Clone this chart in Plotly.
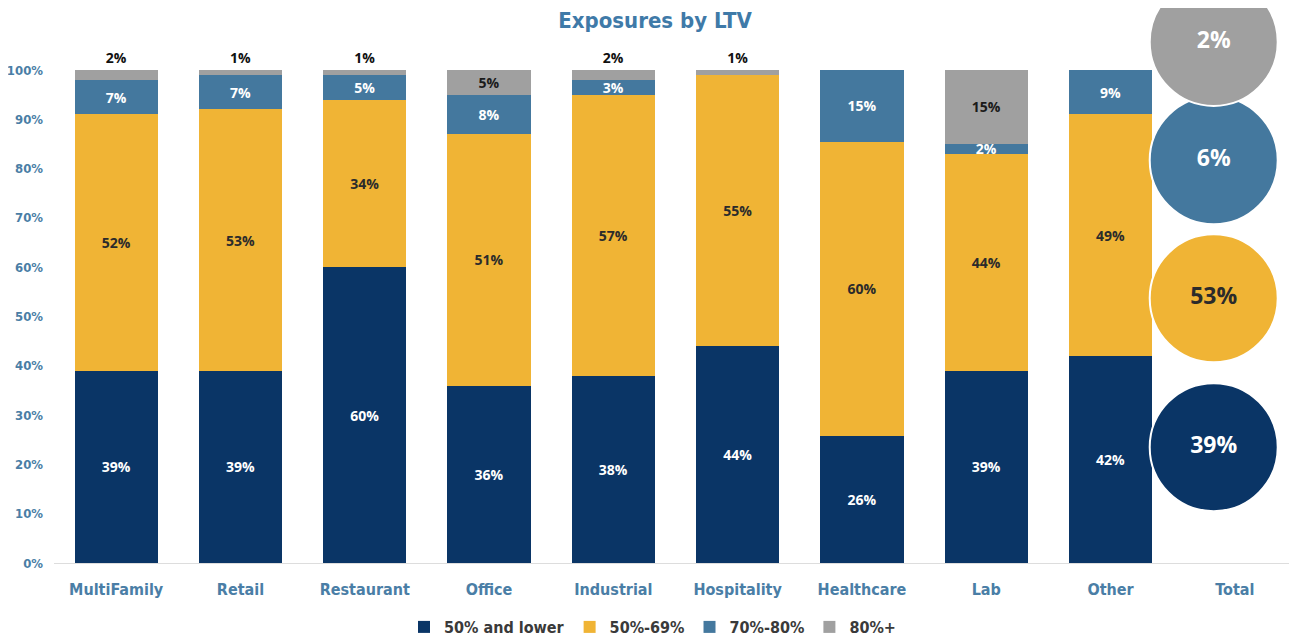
import plotly.graph_objects as go

categories = ['MultiFamily', 'Retail', 'Restaurant', 'Office', 'Industrial',
              'Hospitality', 'Healthcare', 'Lab', 'Other']
all_categories = categories + ['Total']

series_names = ['50% and lower', '50%-69%', '70%-80%', '80%+']
low_50 = [39, 39, 60, 36, 38, 44, 25.8, 39, 42]
mid_50_69 = [52, 53, 34, 51, 57, 55, 59.6, 44, 49]
mid_70_80 = [7, 7, 5, 8, 3, 0, 14.6, 2, 9]
over_80 = [2, 1, 1, 5, 2, 1, 0, 15, 0]

total_values = [39, 53, 6, 2]
# vertical spot of each Total bubble, as placed in the original chart
total_bubble_y = [23.5, 53.7, 81.7, 105.7]

y_ticks = list(range(0, 101, 10))

colors = ['#0a3566', '#f0b435', '#44789e', '#a0a0a0']
text_colors = ['white', '#2b2b2b', 'white', '#1a1a1a']
bubble_text_colors = ['white', '#2b2b2b', 'white', 'white']

NARROW = 'Liberation Sans Narrow, DejaVu Sans Condensed, Roboto'
BODY = 'Open Sans, Lato, Roboto'
AXIS_BLUE = '#4a7ea6'

# the page adds an 8px body margin, so the figure is a bit smaller
W, H = 1289, 631
BUBBLE_SHIFT = 0.17  # bubbles sit a little left of the Total label

fig = go.Figure()

for i, vals in enumerate([low_50, mid_50_69, mid_70_80, over_80]):
    labels = [f'{v:.0f}%' if v > 0 else '' for v in vals]
    if i == 3:
        # small grey caps get their label above the bar
        pos = ['inside' if v >= 5 else 'outside' for v in vals]
    else:
        pos = 'inside'
    fig.add_trace(go.Bar(
        x=categories, y=vals, name=series_names[i],
        marker=dict(color=colors[i], line=dict(width=0)),
        text=labels, textposition=pos, insidetextanchor='middle',
        textfont=dict(family=BODY, size=14, color=text_colors[i],
                      weight='bold'),
        outsidetextfont=dict(family=BODY, size=14, color='#111111',
                             weight='bold'),
        cliponaxis=False,
        hoverinfo='skip',
    ))

fig.add_trace(go.Scatter(
    x=['Total'] * len(total_values), y=total_bubble_y, xaxis='x2',
    mode='markers+text',
    marker=dict(size=128, color=colors, line=dict(color='white', width=2),
                opacity=1),
    text=[f'{v}%' for v in total_values], textposition='middle center',
    textfont=dict(family=BODY, size=23, color=bubble_text_colors,
                  weight='bold'),
    cliponaxis=False, showlegend=False, hoverinfo='skip',
))

fig.update_layout(
    width=W, height=H,
    barmode='stack', bargap=0.33,
    paper_bgcolor='white', plot_bgcolor='white',
    margin=dict(l=46, r=0, t=0, b=76, autoexpand=False),
    title=dict(text='<b>Exposures by LTV</b>', x=647 / W, xref='container',
               y=1 - 12 / H, yref='container', xanchor='center',
               yanchor='middle',
               font=dict(family=NARROW, size=22, color='#3f7aa8')),
    legend=dict(orientation='h', x=0.5, xref='container', xanchor='center',
                y=1 - 619 / H, yref='container', yanchor='middle',
                font=dict(family=NARROW, size=16, color='#3a3a3a',
                          weight='bold'),
                traceorder='normal'),
    uniformtext=dict(minsize=14, mode='show'),
    xaxis=dict(categoryorder='array', categoryarray=all_categories,
               range=[-0.5, 9.5], showgrid=False, showline=True,
               linecolor='#dddddd', linewidth=1, ticks='',
               ticklabelstandoff=12,
               tickfont=dict(family=NARROW, size=16, color=AXIS_BLUE,
                             weight='bold')),
    xaxis2=dict(overlaying='x', categoryorder='array',
                categoryarray=all_categories,
                range=[-0.5 + BUBBLE_SHIFT, 9.5 + BUBBLE_SHIFT],
                visible=False),
    yaxis=dict(range=[0, 555 / 4.93], tickmode='array', tickvals=y_ticks,
               ticktext=[f'{t}%' for t in y_ticks],
               showgrid=False, zeroline=False, ticklabelstandoff=10,
               tickfont=dict(family=NARROW, size=13, color=AXIS_BLUE,
                             weight='bold')),
)

fig.write_html('out.html')
